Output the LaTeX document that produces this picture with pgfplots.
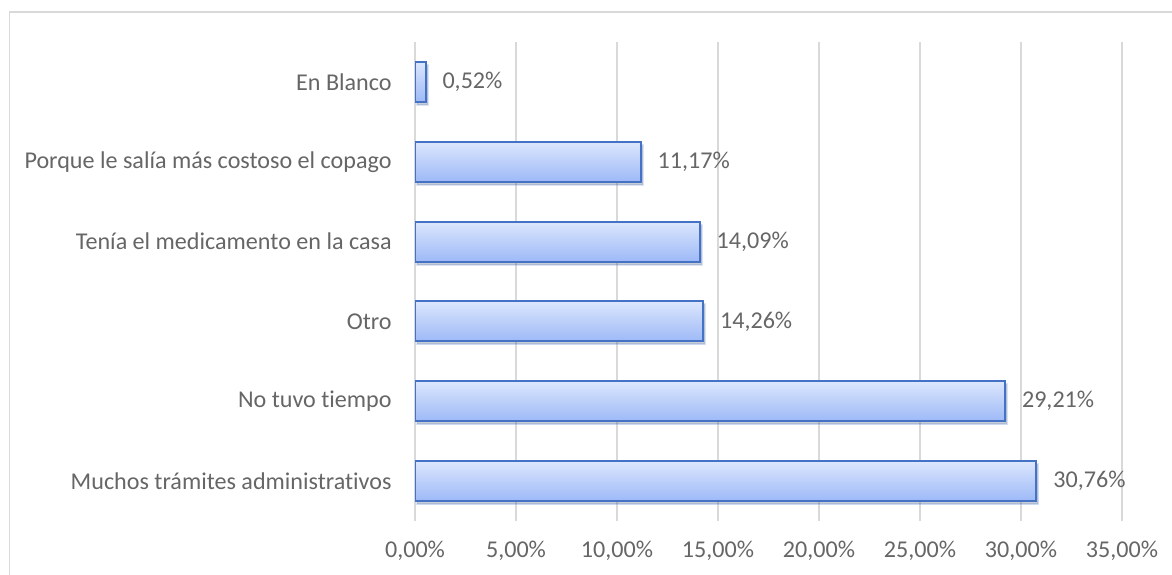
\documentclass[border=0pt]{standalone}
\usepackage{pgfplots}
\pgfplotsset{compat=1.18}
\usepackage{fontspec}
\setmainfont{Carlito}[Ligatures={NoCommon}]
\usetikzlibrary{shadows}
\definecolor{txt}{HTML}{666666}
\definecolor{gridc}{HTML}{D9D9D9}
\definecolor{barline}{HTML}{4472C4}
\definecolor{bartop}{RGB}{220,230,253}
\definecolor{barbot}{RGB}{157,185,247}
\pgfplotsset{barsty/.style={draw=barline, line width=1bp, top color=bartop, bottom color=barbot,
  drop shadow={shadow xshift=1bp, shadow yshift=-1.5bp, opacity=0.18, fill=black}}}
\begin{document}
\begin{tikzpicture}
\useasboundingbox (0,0) rectangle (586bp,287.5bp);
\fill[white] (0,0) rectangle (586bp,287.5bp);
\draw[gridc, line width=0.75bp] (4.75bp,-20bp) rectangle (620bp,281.5bp);
\begin{axis}[
  at={(207.5bp,27bp)}, anchor=south west,
  scale only axis,
  width=353.5bp, height=239.5bp,
  xbar, bar width=20bp, bar shift=0pt,
  xmin=0, xmax=35,
  ymin=-0.5, ymax=5.5,
  xtick={0,5,...,35},
  ytick={0,...,5},
  yticklabels={Muchos trámites administrativos, No tuvo tiempo, Otro, Tenía el medicamento en la casa, Porque le salía más costoso el copago, En Blanco},
  major tick length=0pt,
  axis line style={draw=none},
  xmajorgrids,
  major grid style={gridc, line width=0.9bp},
  font=\fontsize{12.1}{14}\selectfont,
  /pgf/number format/assume math mode=true,
  xticklabel={\pgfmathprintnumber[fixed,fixed zerofill,precision=2,use comma]{\tick}\%},
  xticklabel style={text=txt, anchor=center, yshift=-15bp},
  yticklabel style={text=txt, anchor=east, inner xsep=0pt, xshift=-11.5bp},
  point meta=x,
  nodes near coords={\pgfmathprintnumber[fixed,fixed zerofill,precision=2,use comma]{\pgfplotspointmeta}\%},
  nodes near coords style={text=txt, anchor=west, inner xsep=0pt, xshift=8bp, font=\fontsize{12.1}{14}\selectfont},
]
\addplot[barsty] coordinates {(30.76,0)};
\addplot[barsty] coordinates {(29.21,1)};
\addplot[barsty] coordinates {(14.26,2)};
\addplot[barsty] coordinates {(14.09,3)};
\addplot[barsty] coordinates {(11.17,4)};
\addplot[barsty] coordinates {(0.52,5)};
\end{axis}
\end{tikzpicture}
\end{document}
